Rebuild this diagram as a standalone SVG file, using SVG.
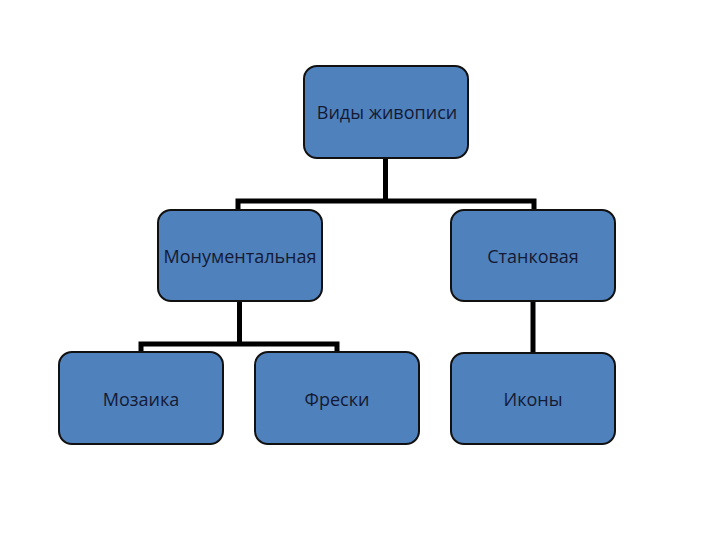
<svg xmlns="http://www.w3.org/2000/svg" width="720" height="540" viewBox="0 0 720 540">
<style>
.box{fill:#4f81bd;stroke:#111;stroke-width:2}
.lbl{font-family:"Open Sans","Liberation Sans",sans-serif;font-size:18px;fill:#141a33;text-anchor:middle;dominant-baseline:central}
.con{fill:none;stroke:#000;stroke-width:5;stroke-linejoin:miter}
</style>
<rect width="720" height="540" fill="#fff"/>
<g id="connectors">
<path class="con" d="M385.5,158 V201 M238,210 V201 H534 V210"/>
<path class="con" d="M239.5,301 V344 M141,352 V344 H337 V352"/>
<path class="con" d="M533,301 V353"/>
</g>
<g id="n-root"><rect class="box" x="304" y="66" width="164" height="92" rx="13"/><text class="lbl" x="387" y="112">Виды живописи</text></g>
<g id="n-monument"><rect class="box" x="158" y="210" width="164" height="91" rx="13"/><text class="lbl" x="240" y="256">Монументальная</text></g>
<g id="n-stankovaya"><rect class="box" x="451" y="210" width="164" height="91" rx="13"/><text class="lbl" x="533" y="256">Станковая</text></g>
<g id="n-mozaika"><rect class="box" x="59" y="352" width="164" height="92" rx="13"/><text class="lbl" x="141" y="399">Мозаика</text></g>
<g id="n-freski"><rect class="box" x="255" y="352" width="164" height="92" rx="13"/><text class="lbl" x="337" y="399">Фрески</text></g>
<g id="n-ikony"><rect class="box" x="451" y="353" width="164" height="91" rx="13"/><text class="lbl" x="533" y="399">Иконы</text></g>
</svg>
